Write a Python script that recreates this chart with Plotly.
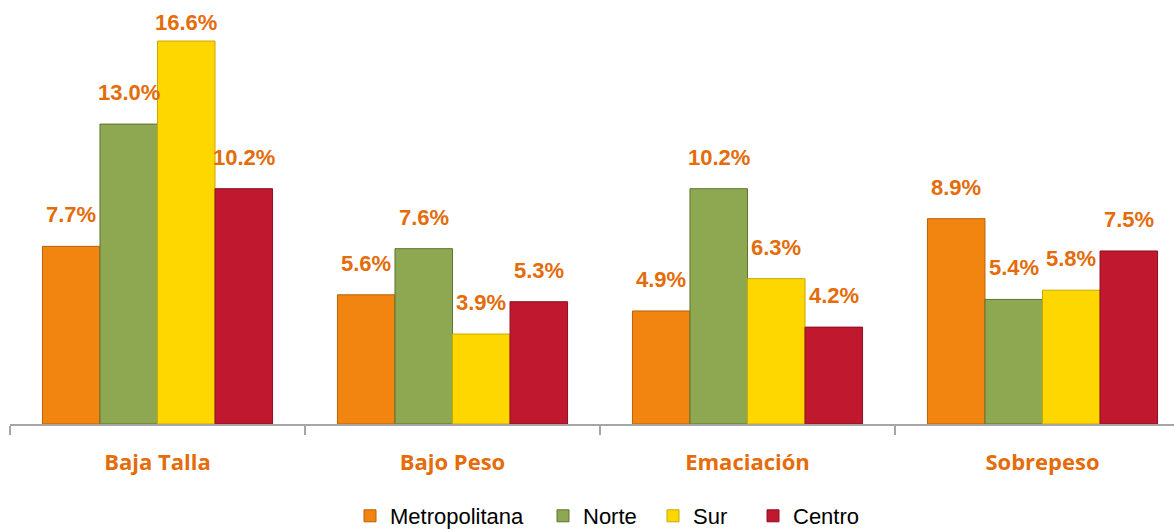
import plotly.graph_objects as go

categories = ["Baja Talla", "Bajo Peso", "Emaciación", "Sobrepeso"]
series_names = ["Metropolitana", "Norte", "Sur", "Centro"]
metropolitana = [7.7, 5.6, 4.9, 8.9]
norte = [13.0, 7.6, 10.2, 5.4]
sur = [16.6, 3.9, 6.3, 5.8]
centro = [10.2, 5.3, 4.2, 7.5]
values = [metropolitana, norte, sur, centro]

colors = ["#F2850F", "#8EA851", "#FFD700", "#C0182E"]
line_colors = ["#B8600A", "#5E7433", "#C9A800", "#8A1020"]
label_color = "#E46C0A"
legend_px = [350, 543, 653, 753]  # legend entry left positions (pixels)

W, H = 1174, 529
ml, mr, mt, mb = 10, 0, 0, 105
bargap = 0.22
n = len(series_names)
plot_h = H - mt - mb
y_max = plot_h / 23.07

fig = go.Figure()
for j, (name, vals) in enumerate(zip(series_names, values)):
    lg = "legend" if j == 0 else f"legend{j+1}"
    fig.add_trace(go.Bar(
        name=name, x=categories, y=vals, legend=lg,
        marker=dict(color=colors[j], line=dict(color=line_colors[j], width=1)),
        hoverinfo="skip",
    ))
    bw = (1 - bargap) / n
    for i, v in enumerate(vals):
        top_px = mt + plot_h * (1 - v / y_max)
        shift = min(17, top_px - 37)
        fig.add_annotation(
            x=i + (j - (n - 1) / 2) * bw, y=v, text=f"<b>{v:.1f}%</b>",
            showarrow=False, yanchor="bottom", yshift=shift, xref="x", yref="y",
            font=dict(family="Liberation Sans, Arial", size=22, color=label_color),
        )

px_per_cat = 295.0
plot_w = W - ml - mr
x_end = -0.5 + plot_w / px_per_cat

legend_font = dict(family="Liberation Sans, Arial", size=22, color="#000000")
legends = {}
for j, px in enumerate(legend_px):
    key = "legend" if j == 0 else f"legend{j+1}"
    legends[key] = dict(orientation="h", x=(px - ml) / plot_w, xanchor="left",
                        y=-0.217, yanchor="middle", font=legend_font, itemwidth=30,
                        bgcolor="rgba(0,0,0,0)")

fig.update_layout(
    width=W, height=H,
    margin=dict(l=ml, r=mr, t=mt, b=mb, autoexpand=False),
    paper_bgcolor="white", plot_bgcolor="white",
    barmode="group", bargap=bargap, bargroupgap=0,
    showlegend=True,
    xaxis=dict(
        type="category", categoryorder="array", categoryarray=categories,
        range=[-0.5, x_end], automargin=False,
        ticktext=[f"<b>{c}</b>" for c in categories], tickvals=categories,
        tickson="boundaries", ticks="outside", ticklen=9, tickcolor="#A6A6A6", tickwidth=1.5,
        showline=True, linecolor="#A6A6A6", linewidth=1.5, showgrid=False, zeroline=False,
        tickfont=dict(family="Open Sans", size=22, color=label_color),
        ticklabelstandoff=18,
    ),
    yaxis=dict(range=[0, y_max], visible=False, showgrid=False, zeroline=False),
    **legends,
)
fig.write_html("out.html", config={"displayModeBar": False},
               post_script="document.body.style.margin='0';document.body.style.overflow='hidden';")
